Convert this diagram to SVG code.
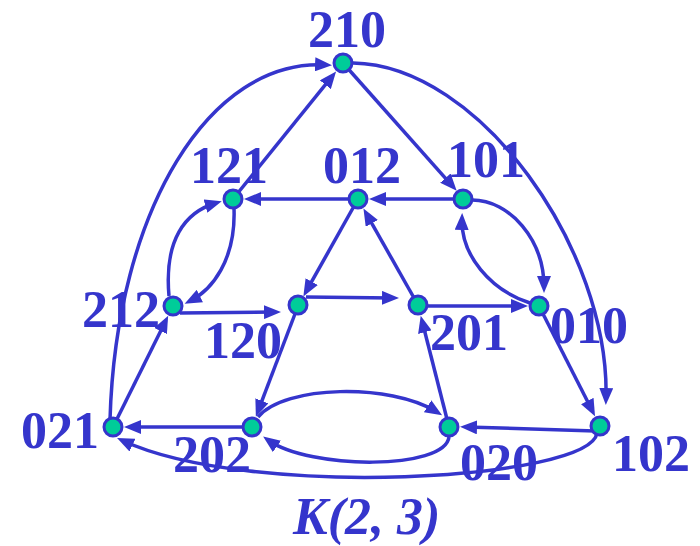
<svg xmlns="http://www.w3.org/2000/svg" width="700" height="546" viewBox="0 0 700 546">
<style>
.e{fill:none;stroke:#3535CC;stroke-width:3.5;marker-end:url(#ah)}
.n{fill:#00CC99;stroke:#3535CC;stroke-width:3}
.t{font-family:"Liberation Serif","Times New Roman",serif;font-weight:bold;font-size:52px;fill:#3535CC}
</style>
<defs>
<marker id="ah" markerUnits="userSpaceOnUse" markerWidth="18" markerHeight="14" refX="11" refY="7" orient="auto">
<path d="M0,0 L17,7 L0,14 Z" fill="#3535CC"/>
</marker>
</defs>
<rect width="700" height="546" fill="#ffffff"/>
<g id="connectors">
<path class="e" d="M233,199 L332.3,76.2"/>
<path class="e" d="M343,63 L452.7,186.3"/>
<path class="e" d="M358,199 L250,199"/>
<path class="e" d="M463,199 L375,199"/>
<path class="e" d="M358,199 L306.3,291.2"/>
<path class="e" d="M418,305 L366.4,213.8"/>
<path class="e" d="M306,297 L393,298"/>
<path class="e" d="M180,313 L275,312"/>
<path class="e" d="M418,306 L522,306"/>
<path class="e" d="M298,306 L258,411.1"/>
<path class="e" d="M449,427 L422.2,321.5"/>
<path class="e" d="M252,427 L130,427"/>
<path class="e" d="M113,427 L165.5,321.2"/>
<path class="e" d="M539,306 L592.3,410.8"/>
<path class="e" d="M595,431 L466,427"/>
<path class="e" d="M110,420 C116,210 210,58 326,65"/>
<path class="e" d="M353,63 C480,65 610,250 606,399"/>
<path class="e" d="M597,433 C590,480 250,500 122.5,440.5"/>
<path class="e" d="M169,296 C164,240 185,212 216,203"/>
<path class="e" d="M234,208 C236,260 212,290 190,301"/>
<path class="e" d="M472,200 C510,200 544,240 544,287"/>
<path class="e" d="M530,303 C490,290 461,255 462,219"/>
<path class="e" d="M258,417 C285,385 390,383 437,412"/>
<path class="e" d="M449,437 C445,470 310,470 268,440"/>
</g>
<g id="n210"><circle class="n" cx="343" cy="63" r="9"/><text class="t" x="308" y="47">210</text></g>
<g id="n121"><circle class="n" cx="233" cy="199" r="9"/><text class="t" x="190" y="183">121</text></g>
<g id="n012"><circle class="n" cx="358" cy="199" r="9"/><text class="t" x="323" y="183">012</text></g>
<g id="n101"><circle class="n" cx="463" cy="199" r="9"/><text class="t" x="447" y="177">101</text></g>
<g id="n212"><circle class="n" cx="173" cy="306" r="9"/><text class="t" x="82" y="327">212</text></g>
<g id="n120"><circle class="n" cx="298" cy="305" r="9"/><text class="t" x="204" y="358">120</text></g>
<g id="n201"><circle class="n" cx="418" cy="305" r="9"/><text class="t" x="430" y="350">201</text></g>
<g id="n010"><circle class="n" cx="539" cy="306" r="9"/><text class="t" x="550" y="343">010</text></g>
<g id="n021"><circle class="n" cx="113" cy="427" r="9"/><text class="t" x="21" y="448">021</text></g>
<g id="n202"><circle class="n" cx="252" cy="427" r="9"/><text class="t" x="173" y="472">202</text></g>
<g id="n020"><circle class="n" cx="449" cy="427" r="9"/><text class="t" x="460" y="480">020</text></g>
<g id="n102"><circle class="n" cx="600" cy="426" r="9"/><text class="t" x="612" y="471">102</text></g>
<text class="t" x="293" y="534" font-style="italic">K(2, 3)</text>
</svg>
